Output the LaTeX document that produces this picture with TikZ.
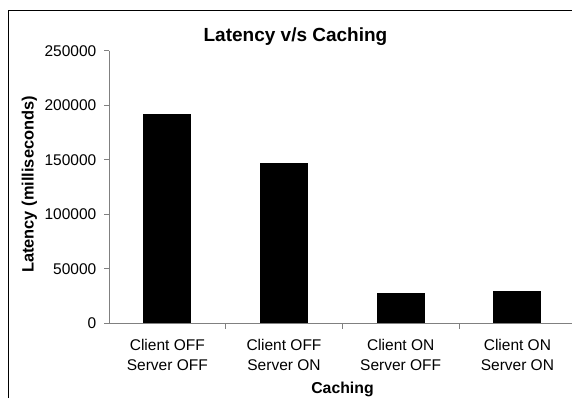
\documentclass[tikz,border=0pt]{standalone}
\usepackage{fontspec}
\setmainfont{Liberation Sans}
\definecolor{axisgray}{HTML}{808080}
\begin{document}
\begin{tikzpicture}[x=1bp,y=-1bp,
  axisline/.style={draw=axisgray,line width=1bp},
  frameline/.style={draw=black,line width=1.1bp},
  bar/.style={fill=black},
  ticklabel/.style={font=\fontsize{15.5bp}{18bp}\selectfont,inner sep=0pt},
  catlabel/.style={font=\fontsize{15.5bp}{18bp}\selectfont,inner sep=0pt,anchor=base},
  axistitle/.style={font=\fontsize{15.8bp}{19bp}\selectfont\bfseries,inner sep=0pt,anchor=base},
  charttitle/.style={font=\fontsize{19bp}{22bp}\selectfont\bfseries,inner sep=0pt,anchor=base}]
\useasboundingbox (0,0) rectangle (572,398);
\fill[white] (0,0) rectangle (572,398);
% outer chart frame
\draw[frameline] (8.3,398) -- (8.3,10.3) -- (572,10.3);
% bars (values in thousands of ms); 1 thousand = 1.0904 px
\foreach \c/\v [count=\i] in {167.3/192.3, 284.0/147.0, 400.7/28.0, 517.4/29.5}{
  \fill[bar] (\c-24,{323.3-\v*1.0904}) rectangle (\c+24,323.3);
}
% axes
\draw[axisline] (109,50.7) -- (109,323.3);
\draw[axisline] (104,323.3) -- (572,323.3);
% y ticks and labels (position given in thousands)
\foreach \t/\lab in {0/0,50/50000,100/100000,150/150000,200/200000,250/250000}{
  \pgfmathsetmacro\yy{323.3-\t*1.0904}
  \draw[axisline] (104,\yy) -- (109,\yy);
  \node[ticklabel,anchor=base east] (y\t) at (96.5,\yy+5.3) {\lab};
}
% x ticks
\foreach \k in {1,2,3}{
  \draw[axisline] (109+116.7*\k,323.3) -- (109+116.7*\k,328.5);
}
% category labels
\foreach \c/\a/\b [count=\i] in {167.3/Client OFF/Server OFF, 284.0/Client OFF/Server ON, 400.7/Client ON/Server OFF, 517.4/Client ON/Server ON}{
  \node[catlabel] (ca\i) at (\c,350.7) {\a};
  \node[catlabel] (cb\i) at (\c,370.0) {\b};
}
% titles
\node[charttitle] (title) at (295.5,41.7) {Latency v/s Caching};
\node[axistitle] (xtitle) at (342.5,393.3) {Caching};
\node[axistitle,rotate=90,font=\fontsize{16.4bp}{19bp}\selectfont\bfseries] (ytitle) at (33.5,184.5) {Latency (milliseconds)};
\end{tikzpicture}
\end{document}
